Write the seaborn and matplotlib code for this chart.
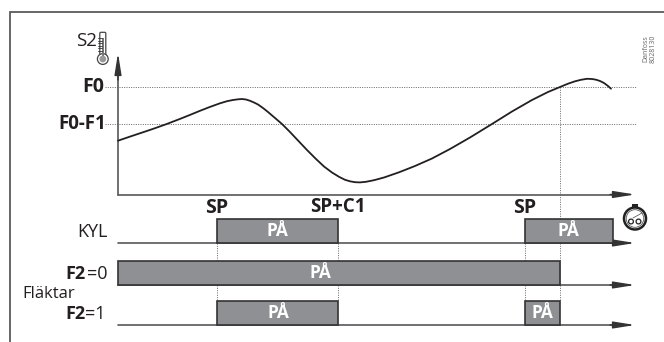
import matplotlib
matplotlib.use('Agg')
import matplotlib.pyplot as plt
import pandas as pd
import seaborn as sns
from matplotlib.patches import Circle, Rectangle, FancyBboxPatch

# curve (image pixels)
curve_x = [118, 130, 145, 155, 167, 180, 190, 200, 210, 220, 227, 233, 238, 242, 246, 250, 254, 258, 263, 268, 275, 282, 290, 298, 307, 316,
           324, 332, 339, 345, 350, 355, 360, 366, 374, 384, 399, 415, 432, 450, 470, 492, 512, 532, 548, 560, 568, 575, 581, 587, 592, 596, 600, 604, 608, 611]
curve_y = [140.7, 136.6, 131.6, 128.2, 123.9, 118.9, 114.9, 110.8, 106.9, 103.3, 101.2, 100, 99.3, 99, 99.5, 100.8, 102.5, 104.5, 108, 112, 118, 124, 132, 140.5, 150, 159,
           166.5, 172.5, 176.8, 179.8, 181.3, 182.2, 182.4, 181.8, 180.2, 177.5, 172.3, 166, 158.5, 149, 137.5, 124, 111.5, 100, 92, 87, 83.7, 81.3, 79.8, 78.8, 79, 79.7, 81, 83, 86, 88.7]

levels = ['F0', 'F0-F1']
level_y = [87, 124]

rows = ['KYL', 'F2=0', 'F2=1']
row_y = [243, 285, 325]
row_start = [[216.5, 524.5], [118], [216.5, 524.5]]
row_end = [[337.5, 613], [560], [337.5, 560]]
row_text_x = [[277, 568], [320], [278, 542]]

sns.set_style('white')
plt.rcParams['font.family'] = ['Open Sans', 'DejaVu Sans']

fig = plt.figure(figsize=(6.64, 3.42), dpi=100)
ax = fig.add_axes([0, 0, 1, 1])
ax.set_xlim(0, 664)
ax.set_ylim(342, 0)
ax.axis('off')

ink = '#231f20'
grey = '#58585a'
fill = '#8f9093'

# frame
ax.plot([9.5, 9.5, 664], [342, 11.5, 11.5], color='#5a5a5a', lw=1.3, solid_joinstyle='miter')

# dotted guides
for name, y in zip(levels, level_y):
    ax.plot([105, 636], [y, y], color='#666666', lw=0.7, ls=(0, (1, 1.4)))
for x, y0, y1 in [(216.5, 243, 301), (337.5, 243, 301), (524.5, 243, 301), (560, 87, 219), (560, 243, 301)]:
    ax.plot([x, x], [y0, y1], color='#666666', lw=0.7, ls=(0, (1, 1.4)))

# axes with arrows
def arrow(x0, y0, x1, y1):
    ax.annotate('', xy=(x1, y1), xytext=(x0, y0),
                arrowprops=dict(arrowstyle='-|>,head_length=1.0,head_width=0.16', color='#333333', lw=1.0,
                                shrinkA=0, shrinkB=0, mutation_scale=13))

ax.plot([118, 118], [194.5, 70], color=grey, lw=1.2)
arrow(118, 80, 118, 53)
ax.plot([118, 620], [194.5, 194.5], color=grey, lw=1.2)
arrow(610, 194.5, 635, 194.5)
for y in row_y:
    ax.plot([118, 620], [y, y], color=grey, lw=1.2)
    arrow(610, y, 635, y)

# curve
df = pd.DataFrame({'x': curve_x, 'y': curve_y})
sns.lineplot(data=df, x='x', y='y', ax=ax, color=ink, lw=1.3, estimator=None, sort=False)
ax.set_xlim(0, 664)
ax.set_ylim(342, 0)
ax.axis('off')

# on-bars
for y, starts, ends, tx in zip(row_y, row_start, row_end, row_text_x):
    for s, e, t in zip(starts, ends, tx):
        ax.barh(y - 12, e - s, height=24, left=s, color=fill, edgecolor='#333335', lw=1.2, zorder=3)
        ax.text(t, y - 12.5, 'PÅ', color='white', fontsize=12.5, fontweight='bold',
                ha='center', va='center', zorder=4)

# labels
ax.text(104, 87, 'F0', fontsize=14, fontweight='bold', ha='right', va='center', color=ink)
ax.text(106.5, 124, 'F0-F1', fontsize=13.5, fontweight='bold', ha='right', va='center', color=ink)
ax.text(97, 41, 'S2', fontsize=13.5, ha='right', va='center', color=ink)
ax.text(108, 232, 'KYL', fontsize=13, ha='right', va='center', color=ink)
ax.text(85.5, 274, 'F2', fontsize=13, fontweight='bold', ha='right', va='center', color=ink)
ax.text(108, 274, '=0', fontsize=13, ha='right', va='center', color=ink)
ax.text(22, 293.5, 'Fläktar', fontsize=12, ha='left', va='center', color=ink)
ax.text(85.5, 314, 'F2', fontsize=13, fontweight='bold', ha='right', va='center', color=ink)
ax.text(106, 314, '=1', fontsize=13, ha='right', va='center', color=ink)
ax.text(217, 208, 'SP', fontsize=14, fontweight='bold', ha='center', va='center', color=ink)
ax.text(338, 207, 'SP+C1', fontsize=13.5, fontweight='bold', ha='center', va='center', color=ink)
ax.text(525, 208, 'SP', fontsize=14, fontweight='bold', ha='center', va='center', color=ink)
ax.text(649, 49, 'Danfoss', fontsize=5, rotation=90, ha='right', va='center', color='#666666')
ax.text(657, 49, '8028130', fontsize=5, rotation=90, ha='right', va='center', color='#666666')

# thermometer
ax.add_patch(FancyBboxPatch((101, 33.5), 3.6, 25, boxstyle='round,pad=1.2', fc='white', ec='#444444', lw=0.9, zorder=5))
ax.add_patch(Circle((102.8, 59), 5.4, fc='white', ec='#444444', lw=0.9, zorder=5))
ax.add_patch(Rectangle((101.7, 38), 2.2, 20, fc='#777777', ec='none', zorder=6))
ax.add_patch(Circle((102.8, 59), 3.4, fc='#999999', ec='none', zorder=6))
for ty in [38, 40.5, 43, 45.5, 48, 50.5]:
    ax.plot([98, 102], [ty, ty], color='#333333', lw=0.6, zorder=6)

# stopwatch
ax.add_patch(Circle((635, 218.5), 11, fc='white', ec='#222222', lw=1.8, zorder=5))
ax.add_patch(Circle((635, 218.5), 8.8, fc='white', ec='#555555', lw=0.6, zorder=5))
ax.add_patch(Rectangle((632, 203.5), 6, 3, fc='#222222', ec='none', zorder=5))
ax.add_patch(Circle((631, 221.5), 2.4, fc='white', ec='#222222', lw=0.9, zorder=6))
ax.add_patch(Circle((638.5, 221.5), 2.4, fc='white', ec='#222222', lw=0.9, zorder=6))
ax.plot([633, 642], [218, 213], color='#444444', lw=0.5, zorder=6)

fig.savefig('out.png', dpi=100)
